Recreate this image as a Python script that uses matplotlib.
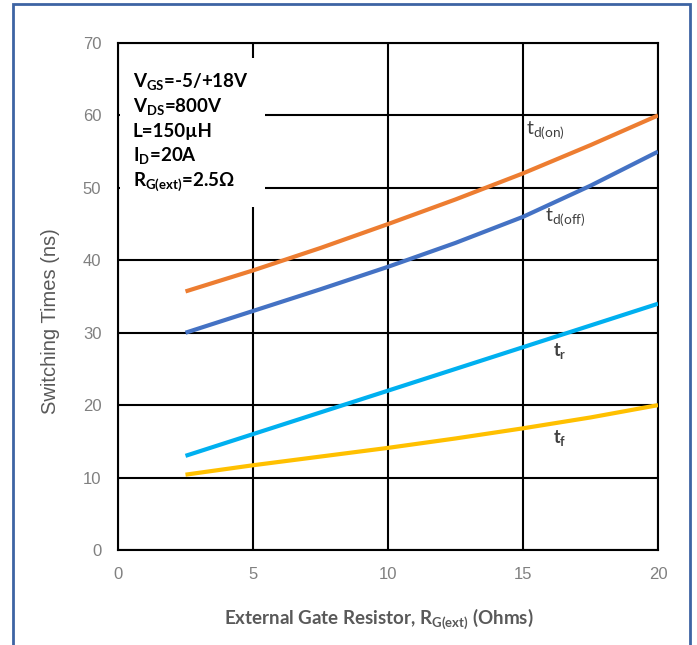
import matplotlib
matplotlib.use("Agg")
import matplotlib.pyplot as plt
from matplotlib.patches import Rectangle

plt.rcParams['font.family'] = ['Lato', 'DejaVu Sans']
plt.rcParams['mathtext.fontset'] = 'custom'
plt.rcParams['mathtext.rm'] = 'Lato'
plt.rcParams['mathtext.bf'] = 'Lato:bold'

rg = [2.5, 5, 7.5, 10, 12.5, 15, 17.5, 20]
td_on = [35.7, 38.6, 41.7, 45.0, 48.4, 52.0, 55.9, 60.0]
td_off = [30.0, 33.0, 36.0, 39.1, 42.4, 46.0, 50.3, 55.0]
t_r = [13.0, 16.0, 19.0, 22.0, 25.0, 28.0, 31.0, 34.0]
t_f = [10.4, 11.7, 12.9, 14.1, 15.4, 16.8, 18.3, 20.0]

x_ticks = [0, 5, 10, 15, 20]
y_ticks = [0, 10, 20, 30, 40, 50, 60, 70]

fig = plt.figure(figsize=(6.97, 6.45), dpi=100)
ax = fig.add_axes([118/697, 95/645, 540/697, 507/645])

ax.plot(rg, td_on, color='#ED7D31', lw=3, solid_capstyle='butt', zorder=3)
ax.plot(rg, td_off, color='#4472C4', lw=3, solid_capstyle='butt', zorder=3)
ax.plot(rg, t_r, color='#00B0F0', lw=3, solid_capstyle='butt', zorder=3)
ax.plot(rg, t_f, color='#FFC000', lw=3, solid_capstyle='butt', zorder=3)

ax.set_xlim(0, 20)
ax.set_ylim(0, 70)
ax.set_xticks(x_ticks)
ax.set_yticks(y_ticks)
ax.set_axisbelow(True)
ax.grid(True, color='black', lw=1.5)
for s in ax.spines.values():
    s.set_color('black')
    s.set_linewidth(1.5)
ax.tick_params(length=0, labelsize=12, labelcolor='#808080', pad=12)
for lbl in ax.get_xticklabels() + ax.get_yticklabels():
    lbl.set_fontfamily(['Liberation Sans'])

ax.set_xlabel(r'External Gate Resistor, R$_\mathregular{G(ext)}$ (Ohms)', fontsize=13.5,
              fontweight='bold', color='#595959', labelpad=18)
ax.xaxis.label.set_x(0.5 - 9/540)
ax.set_ylabel('Switching Times (ns)', fontsize=14.5, color='#595959',
              fontfamily=['Liberation Sans'])
ax.yaxis.set_label_coords(-0.107, 0.452)

# white box behind conditions text
ax.add_patch(Rectangle((0.08, 47.3), 5.35, 20.6, facecolor='white', edgecolor='none', zorder=2))

cond = [r'V$_\mathregular{GS}$=-5/+18V', r'V$_\mathregular{DS}$=800V', 'L=150µH',
        r'I$_\mathregular{D}$=20A', r'R$_\mathregular{G(ext)}$=2.5Ω']
for i, c in enumerate(cond):
    ax.text(0.55, 64.6 - i * 3.42, c, fontsize=13.5, fontweight='bold', color='black',
            va='center', ha='left', zorder=4)

ax.text(15.1, 57.9, r't$_\mathregular{d(on)}$', fontsize=14, color='#404040', zorder=4, va='center')
ax.text(15.8, 45.8, r't$_\mathregular{d(off)}$', fontsize=14, color='#404040', zorder=4, va='center')
ax.text(16.1, 27.5, r't$_\mathregular{r}$', fontsize=13, color='#404040', fontweight='bold', zorder=4, va='center')
ax.text(16.1, 15.5, r't$_\mathregular{f}$', fontsize=13, color='#404040', fontweight='bold', zorder=4, va='center')

fig.patches.append(Rectangle((13.5/697, -0.05), 676/697, 1 - 4/645 + 0.05, transform=fig.transFigure,
                             fill=False, edgecolor='#3D64A3', lw=2, figure=fig))

fig.savefig('out.png', dpi=100)
